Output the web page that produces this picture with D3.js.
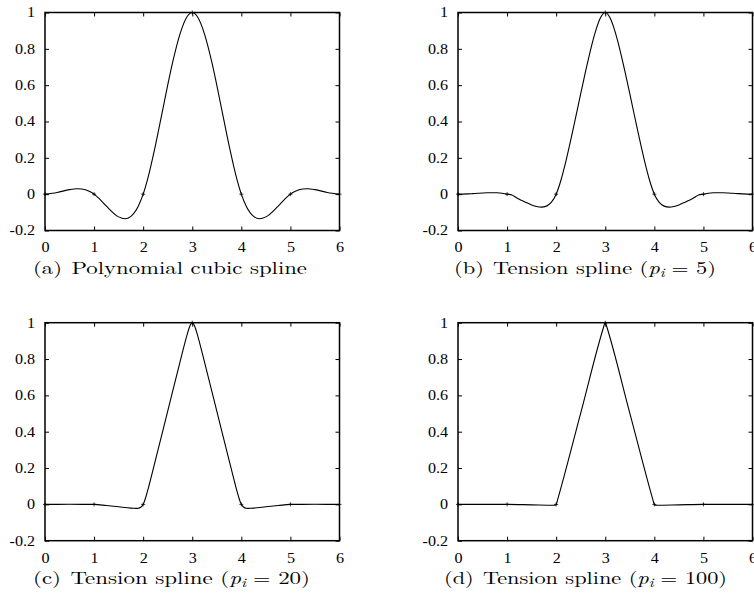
<!DOCTYPE html>
<html>
<head>
<meta charset="utf-8">
<script src="https://cdn.jsdelivr.net/npm/d3@7"></script>
<style>
  body { margin: 0; background: #fff; }
</style>
</head>
<body>
<div id="chart"></div>
<script>
var widthsvg = 754;
var heightsvg = 603;

// axis ticks
var xTicks = [0, 1, 2, 3, 4, 5, 6];
var yTicks = [-0.2, 0, 0.2, 0.4, 0.6, 0.8, 1];
var yTickLabels = ["-0.2", "0", "0.2", "0.4", "0.6", "0.8", "1"];

// knots the splines pass through
var knotX = [0, 1, 2, 3, 4, 5, 6];
var knotY = [0, 0, 0, 1, 0, 0, 0];

// (a) polynomial cubic spline
var xA = [0, 0.25, 0.5, 0.65, 0.75, 0.9, 1, 1.1, 1.25, 1.5, 1.63, 1.75, 1.9, 2, 2.1, 2.25, 2.4, 2.5, 2.6, 2.75, 2.9, 3,
          3.1, 3.25, 3.4, 3.5, 3.6, 3.75, 3.9, 4, 4.1, 4.25, 4.37, 4.5, 4.75, 4.9, 5, 5.1, 5.25, 5.35, 5.5, 5.75, 6];
var yA = [0, 0.0094, 0.025, 0.0295, 0.0281, 0.0162, 0, -0.0234, -0.0656, -0.125, -0.135, -0.1219, -0.0666, 0, 0.0928, 0.2688, 0.4672, 0.6, 0.7248, 0.8812, 0.9792, 1,
          0.9792, 0.8812, 0.7248, 0.6, 0.4672, 0.2688, 0.0928, 0, -0.0666, -0.1219, -0.135, -0.125, -0.0656, -0.0234, 0, 0.0162, 0.0281, 0.0295, 0.025, 0.0094, 0];

// (b) tension spline p=5
var xB = [0, 0.1, 0.2, 0.3, 0.4, 0.5, 0.6, 0.7, 0.8, 0.9, 1, 1.1, 1.2, 1.3, 1.4, 1.5, 1.6, 1.7, 1.8, 1.9,
          2, 2.1, 2.2, 2.3, 2.4, 2.5, 2.6, 2.7, 2.8, 2.9, 3, 3.1, 3.2, 3.3, 3.4, 3.5, 3.6, 3.7, 3.8, 3.9,
          4, 4.1, 4.2, 4.3, 4.4, 4.5, 4.6, 4.7, 4.8, 4.9, 5, 5.1, 5.2, 5.3, 5.4, 5.5, 5.6, 5.7, 5.8, 5.9, 6];
var yB = [0, 0.0005, 0.0016, 0.0031, 0.0047, 0.0062, 0.0074, 0.008, 0.0075, 0.0052,
          0, -0.0043, -0.0213, -0.0344, -0.0475, -0.0592, -0.068, -0.0715, -0.0658, -0.0454,
          0, 0.0795, 0.1835, 0.3013, 0.4262, 0.553, 0.6772, 0.7935, 0.8946, 0.9694,
          1, 0.9694, 0.8946, 0.7935, 0.6772, 0.553, 0.4262, 0.3013, 0.1835, 0.0795,
          0, -0.0454, -0.0658, -0.0715, -0.068, -0.0592, -0.0475, -0.0344, -0.0213, -0.0043,
          0, 0.0052, 0.0075, 0.008, 0.0074, 0.0062, 0.0047, 0.0031, 0.0016, 0.0005, 0];

// (c) tension spline p=20
var xC = [0, 0.5, 1, 1.25, 1.5, 1.75, 1.8, 1.86, 1.9, 1.95, 1.98, 2, 2.02, 2.05, 2.1, 2.15, 2.25, 2.5, 2.75, 2.85, 2.9, 2.95, 2.975, 3,
          3.025, 3.05, 3.1, 3.15, 3.25, 3.5, 3.75, 3.85, 3.9, 3.95, 3.98, 4, 4.02, 4.05, 4.1, 4.14, 4.2, 4.25, 4.5, 4.75, 5, 5.5, 6];
var yC = [0, 0.0003, 0, -0.0064, -0.0135, -0.0205, -0.0216, -0.0221, -0.0212, -0.0161, -0.0086, 0, 0.0125, 0.0365, 0.0842, 0.1359, 0.2429, 0.5132, 0.7833, 0.8891, 0.9386, 0.9801, 0.9942, 1,
          0.9942, 0.9801, 0.9386, 0.8891, 0.7833, 0.5132, 0.2429, 0.1359, 0.0842, 0.0365, 0.0125, 0, -0.0086, -0.0161, -0.0212, -0.0221, -0.0216, -0.0205, -0.0135, -0.0064, 0, 0.0003, 0];

// (d) tension spline p=100
var xD = [0, 1, 1.5, 1.95, 1.98, 2, 2.01, 2.03, 2.5, 2.97, 2.99, 3, 3.01, 3.03, 3.5, 3.97, 3.99, 4, 4.02, 4.05, 4.5, 5, 6];
var yD = [0, 0, -0.0026, -0.0048, -0.0043, 0, 0.0069, 0.0256, 0.5025, 0.9792, 0.9963, 1, 0.9963, 0.9792, 0.5025, 0.0256, 0.0069, 0, -0.0043, -0.0048, -0.0026, 0, 0];

var captionLabels = ["(a)", "(b)", "(c)", "(d)"];
var captionTexts = ["Polynomial cubic spline", "Tension spline", "Tension spline", "Tension spline"];
var tensionValues = [null, "5", "20", "100"];

var seriesX = [xA, xB, xC, xD];
var seriesY = [yA, yB, yC, yD];

// panel placement
var panels = [
  {left: 45, top: 12.5, capX: 170, capW: 274},
  {left: 458, top: 12.5, capX: 585, capW: 262},
  {left: 45, top: 322.7, capX: 171.5, capW: 277},
  {left: 458, top: 322.7, capX: 585.5, capW: 283}
];
var pw = 294.5, ph = 218;

var svg = d3.select("#chart")
    .append("svg")
    .attr("width", widthsvg)
    .attr("height", heightsvg);

panels.forEach(function(p, i) {
  var g = svg.append("g")
      .attr("transform", `translate(${p.left}, ${p.top})`);

  var scalex = d3.scaleLinear().domain([0, 6]).range([0, pw]);
  var scaley = d3.scaleLinear().domain([-0.2, 1]).range([ph, 0]);

  g.append("g")
      .attr("transform", `translate(0, ${ph})`)
      .call(d3.axisBottom(scalex).tickValues(xTicks).tickSize(-4).tickPadding(12).tickFormat(d3.format("d")));
  g.append("g")
      .call(d3.axisTop(scalex).tickValues(xTicks).tickSize(-4).tickFormat(""));
  g.append("g")
      .call(d3.axisLeft(scaley).tickValues(yTicks).tickSize(-4).tickPadding(10)
        .tickFormat(function(d, k) { return yTickLabels[k]; }));
  g.append("g")
      .attr("transform", `translate(${pw}, 0)`)
      .call(d3.axisRight(scaley).tickValues(yTicks).tickSize(-4).tickFormat(""));

  g.selectAll(".domain").remove();
  g.selectAll("g").attr("font-family", null).attr("font-size", null);
  g.selectAll(".tick line").attr("stroke", "#000").attr("stroke-width", 1);
  g.selectAll(".tick text")
      .style("font-family", "Liberation Serif")
      .style("font-size", "14px")
      .attr("fill", "#000")
      .each(function() {
        var w = this.getComputedTextLength();
        if (w > 0) d3.select(this).attr("textLength", w * 1.15).attr("lengthAdjust", "spacingAndGlyphs");
      });

  // frame
  g.append("rect")
      .attr("width", pw)
      .attr("height", ph)
      .attr("fill", "none")
      .attr("stroke", "#000")
      .attr("stroke-width", 1.5);

  // curve
  var pts = seriesX[i].map(function(x, k) { return [x, seriesY[i][k]]; });
  var line = d3.line()
      .x(d => scalex(d[0]))
      .y(d => scaley(d[1]))
      .curve(d3.curveMonotoneX);
  g.append("path")
      .datum(pts)
      .attr("d", line)
      .attr("fill", "none")
      .attr("stroke", "#000")
      .attr("stroke-width", 1.1);

  // knot markers
  g.selectAll(".knot")
      .data(knotX)
      .enter()
      .append("path")
      .attr("class", "knot")
      .attr("transform", (d, k) => `translate(${scalex(d)}, ${scaley(knotY[k])})`)
      .attr("d", "M-2,0H2M0,-2V2")
      .attr("stroke", "#000")
      .attr("stroke-width", 0.8);

  // caption
  var cap = svg.append("text")
      .attr("x", p.capX)
      .attr("y", p.top + 261.5)
      .attr("text-anchor", "middle")
      .style("font-family", "Latin Modern Roman")
      .style("font-size", "17px");
  cap.append("tspan").text(captionLabels[i]);
  cap.append("tspan").attr("dx", 7).text(captionTexts[i]);
  if (tensionValues[i] !== null) {
    cap.append("tspan").text(" (");
    cap.append("tspan").style("font-style", "italic").text("p");
    cap.append("tspan").style("font-style", "italic").style("font-size", "12px").attr("dy", 3).text("i");
    cap.append("tspan").attr("dy", -3).attr("dx", 5).text("= " + tensionValues[i] + ")");
  }
  cap.attr("textLength", p.capW).attr("lengthAdjust", "spacingAndGlyphs");
});
</script>
</body>
</html>
